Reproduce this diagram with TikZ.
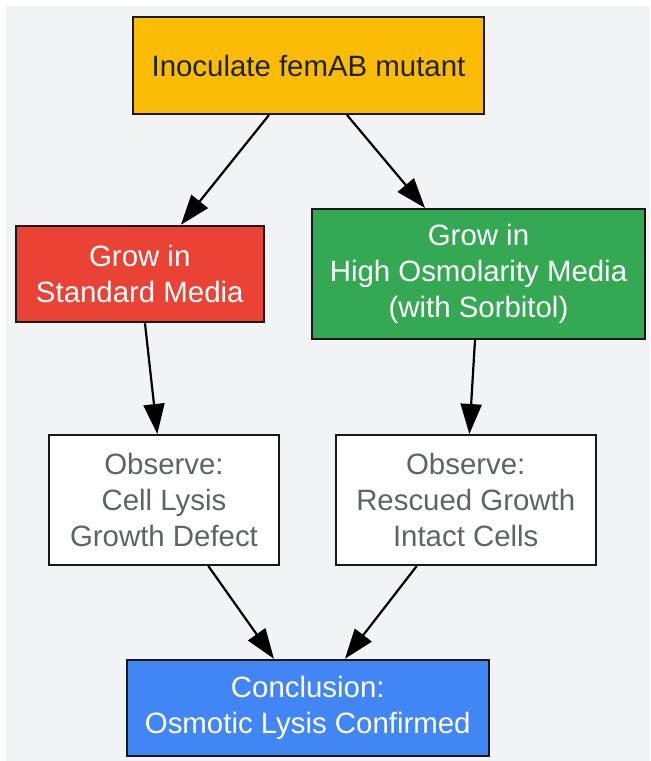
\documentclass[tikz,border=0pt]{standalone}
\usepackage{fontspec}
\setmainfont{Liberation Sans}
\usetikzlibrary{arrows.meta}

\definecolor{bgGrey}{HTML}{F1F3F4}
\definecolor{gYellow}{HTML}{FBBC05}
\definecolor{gRed}{HTML}{EA4335}
\definecolor{gGreen}{HTML}{34A853}
\definecolor{gBlue}{HTML}{4285F4}
\definecolor{txtGrey}{HTML}{5F6368}
\definecolor{txtDark}{HTML}{202124}

\begin{document}
\begin{tikzpicture}[
        x=0.5pt, y=-0.5pt, % one unit = one pixel of the layout
        cell/.style={draw=black!90, line width=1pt, inner sep=0pt, align=center,
            font=\fontsize{14.7}{18}\selectfont}, % Стиль узлов
        yellowcell/.style={cell, fill=gYellow, text=txtDark},
        redcell/.style={cell, fill=gRed, text=white},
        greencell/.style={cell, fill=gGreen, text=white},
        whitecell/.style={cell, fill=white, text=txtGrey},
        bluecell/.style={cell, fill=gBlue, text=white},
        arr/.style={draw, line width=1.1pt, -{Triangle[length=15pt, width=10.5pt]}},
    ]

    \useasboundingbox (0,0) rectangle (650,761);
    \fill[bgGrey] (6,6) rectangle (650,761);

    \node[yellowcell, minimum width=175.5pt, minimum height=48.5pt] (inoc) at (308.5,65.5) {Inoculate femAB mutant};
    \node[redcell, minimum width=123.75pt, minimum height=48.25pt] (stdmedia) at (139.75,274) {Grow in\\Standard Media};
    \node[greencell, minimum width=166.5pt, minimum height=65pt] (osmmedia) at (478.5,274) {Grow in\\High Osmolarity Media\\(with Sorbitol)};
    \node[whitecell, minimum width=115pt, minimum height=65pt] (lysis) at (164,500) {Observe:\\Cell Lysis\\Growth Defect};
    \node[whitecell, minimum width=129.75pt, minimum height=65pt] (rescue) at (465.75,500) {Observe:\\Rescued Growth\\Intact Cells};
    \node[bluecell, minimum width=180.75pt, minimum height=48.25pt] (concl) at (307.75,708) {Conclusion:\\Osmotic Lysis Confirmed};

    \draw[arr] ([xshift=-19.75pt]inoc.south) -- ([xshift=20.6pt]stdmedia.north);
    \draw[arr] ([xshift=19.25pt]inoc.south) -- ([xshift=-26.75pt]osmmedia.north);
    \draw[arr] ([xshift=2.6pt]stdmedia.south) -- ([xshift=-3.35pt]lysis.north);
    \draw[arr] ([xshift=-1.75pt]osmmedia.south) -- ([xshift=1.8pt]rescue.north);
    \draw[arr] ([xshift=22.15pt]lysis.south) -- ([xshift=-16.9pt]concl.north);
    \draw[arr] ([xshift=-24.5pt]rescue.south) -- ([xshift=18.6pt]concl.north);
\end{tikzpicture}
\end{document}
